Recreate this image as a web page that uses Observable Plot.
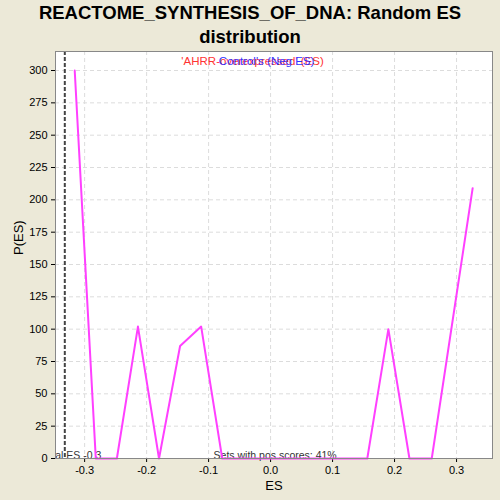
<!DOCTYPE html>
<html><head><meta charset="utf-8">
<script src="https://cdn.jsdelivr.net/npm/d3@7"></script>
<script src="https://cdn.jsdelivr.net/npm/@observablehq/plot@0.6"></script>
<style>
body{margin:0;background:#ECE9D8;font-family:"Liberation Sans",Arial,sans-serif;}
#wrap{position:relative;width:500px;height:500px;}
#title{position:absolute;left:0;top:1px;width:500px;text-align:center;font-weight:bold;font-size:18.5px;line-height:24px;color:#000;}
</style></head>
<body><div id="wrap"><div id="title">REACTOME_SYNTHESIS_OF_DNA: Random ES<br>distribution</div></div>
<script>
const esValues = [-0.316, -0.282, -0.248, -0.214, -0.180, -0.146, -0.112, -0.078, -0.044, -0.010, 0.024, 0.058, 0.092, 0.126, 0.156, 0.190, 0.224, 0.260, 0.326];
const pValues  = [300, 0, 0, 102, 0, 87, 102, 0, 0, 0, 0, 0, 0, 0, 0, 100, 0, 0, 209];
const xTicks = [-0.3, -0.2, -0.1, 0.0, 0.1, 0.2, 0.3];
const yTicks = [0, 25, 50, 75, 100, 125, 150, 175, 200, 225, 250, 275, 300];
const realES = -0.332;
const realLabel = "Real ES -0.3";
const posLabel = "Sets with pos scores: 41%";
const legendPos = "'AHRR-overexpressed' (ES)";
const legendNeg = "Control's (Neg ES)";

const data = esValues.map((x, i) => ({x, y: pValues[i]}));

const chart = Plot.plot({
  width: 500, height: 500,
  marginLeft: 55, marginRight: 8, marginTop: 51, marginBottom: 42,
  style: {background: "transparent", fontFamily: "Liberation Sans, Arial, sans-serif", fontSize: "11px", color: "#000"},
  x: {domain: [-0.347, 0.358], ticks: xTicks, tickFormat: d => d.toFixed(1), label: null, tickSize: 4, tickPadding: 4},
  y: {domain: [0, 314.7], ticks: yTicks, label: null, tickSize: 4, tickPadding: 4},
  marks: [
    Plot.frame({fill: "white"}),
    Plot.gridX(xTicks, {stroke: "#dcdcdc", strokeDasharray: "4,3", strokeOpacity: 1}),
    Plot.gridY(yTicks, {stroke: "#dcdcdc", strokeDasharray: "4,3", strokeOpacity: 1}),
    Plot.text([realLabel], {x: realES, y: 0, text: d => d, textAnchor: "start", dx: -23, dy: -3, fontSize: 10.5, fill: "#333", clip: true}),
    Plot.text([posLabel], {x: -0.092, y: 0, text: d => d, textAnchor: "start", dy: -3, fontSize: 10.5, fill: "#333"}),
    Plot.ruleX([realES], {stroke: "#444", strokeWidth: 2, strokeDasharray: "4,2"}),
    Plot.line(data, {x: "x", y: "y", stroke: "#FF40FF", strokeWidth: 2}),
    Plot.text([legendPos], {x: 0.0, y: 314.7, text: d => d, dx: -18, dy: 10, fontSize: 11.5, fill: "#FF3333"}),
    Plot.text([legendNeg], {x: 0.0, y: 314.7, text: d => d, dx: -4, dy: 10, fontSize: 11.5, fill: "#3333FF"}),
    Plot.frame({stroke: "#888"}),
    Plot.text(["ES"], {frameAnchor: "bottom", dy: 31, fontSize: 13, fill: "#000"}),
    Plot.text(["P(ES)"], {frameAnchor: "left", dx: -37, rotate: -90, fontSize: 13, fill: "#000"})
  ]
});
document.getElementById("wrap").prepend(chart);
chart.style.position = "absolute"; chart.style.left = "0"; chart.style.top = "0";
</script></body></html>
